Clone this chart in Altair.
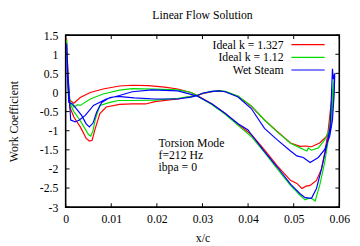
import altair as alt
import pandas as pd

series_names = ["Ideal k = 1.327", "Ideal k = 1.12", "Wet Steam"]
colors = ["#ff0000", "#00dd00", "#0000ff"]

# closed loops (suction branch from LE to TE, pressure branch back to LE)
red_x = [0.0002, 0.0005, 0.0009, 0.0018, 0.0032, 0.0054, 0.0082, 0.0118, 0.0146, 0.0182, 0.0217,
         0.0246, 0.0275, 0.0289, 0.0321, 0.035, 0.0378, 0.0407, 0.0436, 0.0464, 0.0493, 0.0507,
         0.0518, 0.0527, 0.0536, 0.055, 0.0561, 0.0568, 0.0575, 0.0582, 0.0588,
         0.0586, 0.0582, 0.0572, 0.0557, 0.0539, 0.0527, 0.0514, 0.0493, 0.0464, 0.0436, 0.0407,
         0.0378, 0.035, 0.0336, 0.0321, 0.03, 0.0289, 0.0275, 0.0246, 0.0196, 0.0175, 0.0146,
         0.0118, 0.0089, 0.0075, 0.0064, 0.0058, 0.0052, 0.0045, 0.0032, 0.0018, 0.0009, 0.0004, 0.0002]
red_y = [1.41, 0.4, -0.2, -0.28, -0.13, 0.0, 0.09, 0.17, 0.19, 0.18, 0.14,
         0.09, 0.0, -0.08, -0.3, -0.55, -0.83, -1.1, -1.5, -1.92, -2.3, -2.38,
         -2.51, -2.45, -2.43, -2.3, -2.0, -1.58, -1.06, -0.3, 0.1,
         -0.3, -0.81, -1.15, -1.32, -1.42, -1.4, -1.41, -1.32, -1.02, -0.72, -0.36,
         -0.1, 0.02, 0.04, 0.02, -0.03, -0.08, -0.1, -0.17, -0.24, -0.3, -0.3,
         -0.31, -0.38, -0.55, -0.98, -1.25, -1.27, -1.2, -0.9, -0.64, -0.38, 0.4, 1.41]

green_x = [0.0002, 0.0004, 0.0007, 0.0018, 0.0027, 0.0032, 0.0054, 0.0082, 0.0118, 0.0146, 0.0196,
           0.0246, 0.0275, 0.0289, 0.0321, 0.035, 0.0378, 0.0407, 0.0436, 0.0464, 0.0493, 0.0514,
           0.0525, 0.0532, 0.0539, 0.0547, 0.0557, 0.0568, 0.0575, 0.0582, 0.0586, 0.0589,
           0.0587, 0.0584, 0.0579, 0.0568, 0.0554, 0.0539, 0.0532, 0.0529, 0.0514, 0.0493, 0.0464,
           0.0436, 0.0407, 0.0378, 0.035, 0.0336, 0.0321, 0.03, 0.0289, 0.0275, 0.0246, 0.0196,
           0.015, 0.0115, 0.0097, 0.0075, 0.0065, 0.006, 0.0055, 0.005, 0.004, 0.003, 0.0018,
           0.001, 0.0004, 0.0002]
green_y = [1.38, 0.4, -0.2, -0.38, -0.32, -0.34, -0.17, -0.04, 0.06, 0.1, 0.09,
           0.07, 0.0, -0.09, -0.32, -0.57, -0.86, -1.15, -1.57, -2.0, -2.43, -2.69,
           -2.81, -2.77, -2.77, -2.84, -2.43, -1.83, -1.3, -0.5, 0.1, 0.4,
           0.0, -0.6, -0.95, -1.24, -1.45, -1.51, -1.45, -1.53, -1.45, -1.33, -1.03,
           -0.72, -0.35, -0.09, 0.03, 0.05, 0.03, -0.02, -0.07, -0.1, -0.15, -0.2,
           -0.21, -0.21, -0.26, -0.34, -0.7, -1.0, -1.14, -1.1, -0.9, -0.7, -0.5,
           -0.3, 0.4, 1.38]

blue_x = [0.0002, 0.0006, 0.0011, 0.0021, 0.003, 0.0043, 0.0061, 0.0089, 0.0118, 0.0146, 0.0189,
          0.0246, 0.0275, 0.0289, 0.0321, 0.035, 0.0378, 0.04, 0.0407, 0.0436, 0.0464, 0.0493,
          0.0514, 0.0525, 0.0539, 0.055, 0.0561, 0.0572, 0.058, 0.0583, 0.0585,
          0.0587, 0.059, 0.0589, 0.0585, 0.0579, 0.0568, 0.0554, 0.0536, 0.0521, 0.0507, 0.0493,
          0.0464, 0.0436, 0.0407, 0.0378, 0.035, 0.0336, 0.0321, 0.03, 0.0289, 0.0275, 0.0246,
          0.0196, 0.015, 0.0115, 0.0097, 0.0079, 0.0068, 0.006, 0.0052, 0.0045, 0.0035, 0.0025,
          0.0015, 0.0007, 0.0004, 0.0002]
blue_y = [1.28, 0.3, -0.72, -0.77, -0.72, -0.6, -0.34, -0.17, -0.08, 0.02, 0.07,
          0.04, -0.05, -0.1, -0.3, -0.55, -0.82, -0.98, -1.1, -1.55, -1.95, -2.4,
          -2.65, -2.75, -2.77, -2.51, -2.0, -1.41, -0.9, 0.0, 0.62,
          0.35, 0.5, 0.0, -0.72, -1.15, -1.49, -1.7, -1.83, -1.7, -1.66, -1.53,
          -1.24, -0.94, -0.42, -0.12, 0.02, 0.04, 0.03, -0.02, -0.08, -0.12, -0.17,
          -0.17, -0.14, -0.1, -0.13, -0.26, -0.51, -0.8, -0.9, -0.82, -0.6, -0.45,
          -0.3, -0.26, 0.4, 1.28]

x_ticks = [0, 0.01, 0.02, 0.03, 0.04, 0.05, 0.06]
y_ticks = [-3, -2.5, -2, -1.5, -1, -0.5, 0, 0.5, 1, 1.5]
notes = ["Torsion Mode", "f=212 Hz", "ibpa = 0"]

rows = []
for name, xs_, ys_ in zip(series_names, [red_x, green_x, blue_x], [red_y, green_y, blue_y]):
    for i, (a, b) in enumerate(zip(xs_, ys_)):
        rows.append({"series": name, "i": i, "x": a, "y": b})
df = pd.DataFrame(rows)

W, H = 280, 176
FONT = "Liberation Serif"

xs = alt.Scale(domain=[0, 0.06], nice=False, zero=False)
ys = alt.Scale(domain=[-3, 1.5], nice=False, zero=False)
cs = alt.Scale(domain=series_names, range=colors)

x_axis = alt.Axis(values=x_ticks, title="x/c", labelExpr="datum.value + ''",
                  ticks=False, domain=False, grid=False, labelPadding=7,
                  titlePadding=8, labelFlush=False, labelOverlap=False)
y_axis = alt.Axis(values=y_ticks, title="Work Coefficient",
                  labelExpr="datum.value + ''", ticks=False, domain=False,
                  grid=False, labelPadding=8, titlePadding=19,
                  labelOverlap=False, labelFlush=False)

lines = alt.Chart(df).mark_line(strokeWidth=1.2, clip=True).encode(
    x=alt.X("x:Q", scale=xs, axis=x_axis),
    y=alt.Y("y:Q", scale=ys, axis=y_axis),
    color=alt.Color("series:N", scale=cs, legend=None),
    order="i:Q",
)

xt = pd.DataFrame({"v": x_ticks})
yt = pd.DataFrame({"v": y_ticks})
tl = 4
xtick_b = alt.Chart(xt).mark_rule(color="black", strokeWidth=1).encode(
    x=alt.X("v:Q", scale=xs, axis=x_axis), y=alt.value(H), y2=alt.value(H - tl))
xtick_t = alt.Chart(xt).mark_rule(color="black", strokeWidth=1).encode(
    x=alt.X("v:Q", scale=xs, axis=x_axis), y=alt.value(0), y2=alt.value(tl))
ytick_l = alt.Chart(yt).mark_rule(color="black", strokeWidth=1).encode(
    y=alt.Y("v:Q", scale=ys, axis=y_axis), x=alt.value(0), x2=alt.value(tl))
ytick_r = alt.Chart(yt).mark_rule(color="black", strokeWidth=1).encode(
    y=alt.Y("v:Q", scale=ys, axis=y_axis), x=alt.value(W), x2=alt.value(W - tl))

leg = pd.DataFrame({"series": series_names, "k": list(range(len(series_names)))})
leg_base = alt.Chart(leg).transform_calculate(py="9.7 + datum.k * 13")
leg_text = leg_base.mark_text(align="right", baseline="middle", font=FONT, fontSize=12, color="black").encode(
    x=alt.value(223), y=alt.Y("py:Q", scale=None), text="series:N")
leg_line = leg_base.mark_rule(strokeWidth=1.2).encode(
    x=alt.value(231), x2=alt.value(265), y=alt.Y("py:Q", scale=None),
    color=alt.Color("series:N", scale=cs, legend=None))

nt = pd.DataFrame({"t": notes, "k": list(range(len(notes)))})
note_text = alt.Chart(nt).transform_calculate(py="110 + datum.k * 12.5").mark_text(
    align="left", baseline="middle", font=FONT, fontSize=12, color="black").encode(
    x=alt.value(95), y=alt.Y("py:Q", scale=None), text="t:N")

chart = alt.layer(lines, xtick_b, xtick_t, ytick_l, ytick_r, leg_line, leg_text, note_text).properties(
    width=W, height=H,
    title=alt.TitleParams("Linear Flow Solution", font=FONT, fontSize=12, fontWeight="normal",
                          color="black", offset=8),
    autosize=alt.AutoSizeParams(type="none"),
    padding={"left": 59, "top": 25, "right": 13, "bottom": 38},
).configure_view(stroke="black", strokeWidth=1.6).configure_axis(
    labelFont=FONT, labelFontSize=12, labelColor="black", titleFont=FONT, titleFontSize=12,
    titleFontWeight="normal", titleColor="black", labelOverlap=False)

chart.save("out.html", embed_options={"renderer": "svg", "actions": False})
